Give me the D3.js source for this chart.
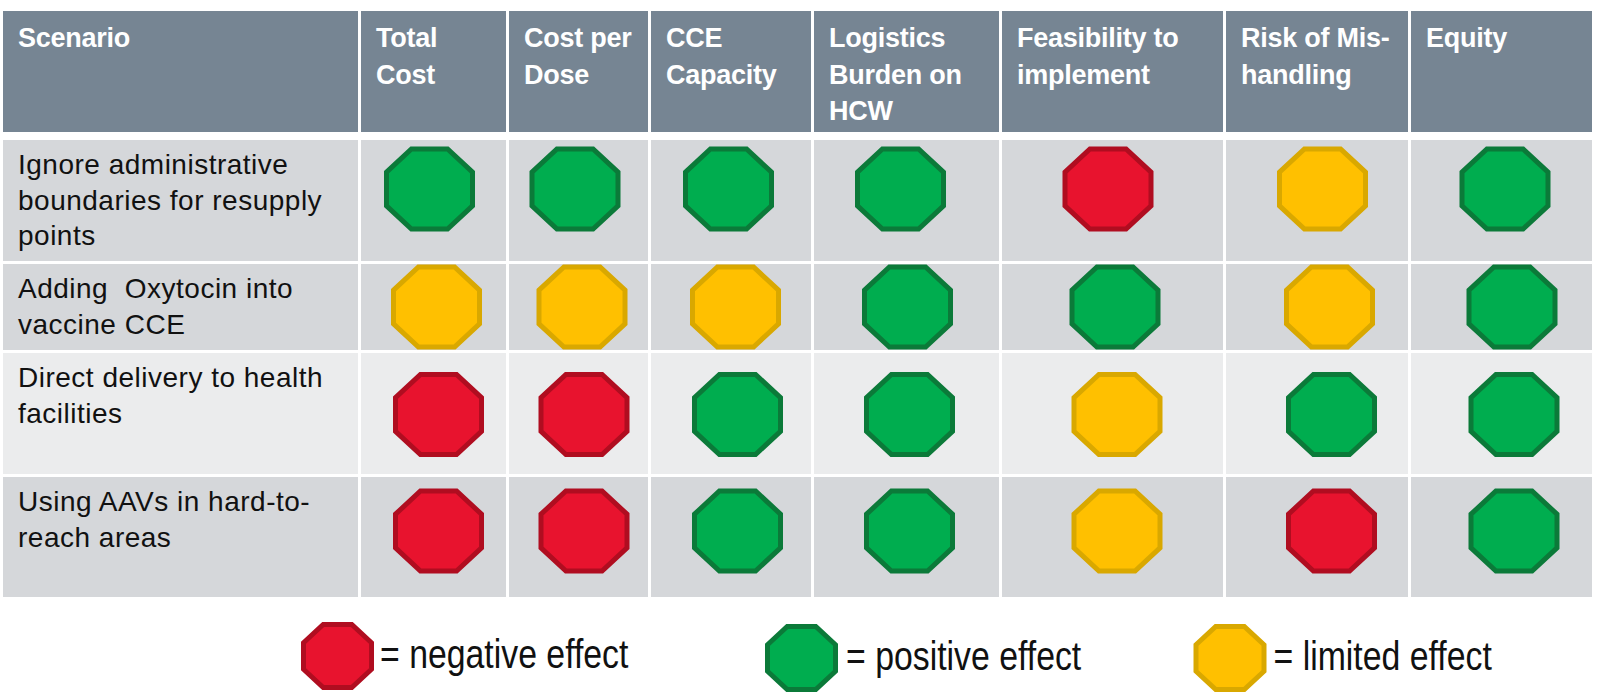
<!DOCTYPE html>
<html>
<head>
<meta charset="utf-8">
<script src="https://cdn.jsdelivr.net/npm/d3@7"></script>
<style>
  html, body { margin: 0; padding: 0; background: #ffffff; }
  svg { display: block; }
  text { white-space: pre; }
</style>
</head>
<body>
<div id="chart"></div>
<script>
// ---------------- DATA ----------------
const headerLabel = "Scenario";
const criteria = [
  "Total\nCost",
  "Cost per\nDose",
  "CCE\nCapacity",
  "Logistics\nBurden on\nHCW",
  "Feasibility to\nimplement",
  "Risk of Mis-\nhandling",
  "Equity"
];
const scenarios = [
  "Ignore administrative\nboundaries for resupply\npoints",
  "Adding  Oxytocin into\nvaccine CCE",
  "Direct delivery to health\nfacilities",
  "Using AAVs in hard-to-\nreach areas"
];
const ignoreBoundaries = ["positive", "positive", "positive", "positive", "negative", "limited", "positive"];
const addingOxytocin   = ["limited", "limited", "limited", "positive", "positive", "limited", "positive"];
const directDelivery   = ["negative", "negative", "positive", "positive", "limited", "positive", "positive"];
const usingAAVs        = ["negative", "negative", "positive", "positive", "limited", "negative", "positive"];
const ratings = [ignoreBoundaries, addingOxytocin, directDelivery, usingAAVs];
const legendKeys = ["negative", "positive", "limited"];
const legendLabels = ["= negative effect", "= positive effect", "= limited effect"];

// ---------------- LAYOUT ----------------
const W = 1601, H = 693;
const tableLeft = 3, gap = 3;
const colWidths = [355, 145, 139, 160, 185, 221, 182, 181];
const headerTop = 11, headerH = 121, headerGap = 8;
const rowHeights = [121, 86, 121, 120];

const colKeys = d3.range(colWidths.length);
const colStarts = colWidths.map((w, i) => tableLeft + d3.sum(colWidths.slice(0, i)) + gap * i);
const x = d3.scaleOrdinal().domain(colKeys).range(colStarts);
const xw = d3.scaleOrdinal().domain(colKeys).range(colWidths);

const rowKeys = d3.range(scenarios.length);
const bodyTop = headerTop + headerH + headerGap;
const rowStarts = rowHeights.map((h, i) => bodyTop + d3.sum(rowHeights.slice(0, i)) + gap * i);
const y = d3.scaleOrdinal().domain(rowKeys).range(rowStarts);
const yh = d3.scaleOrdinal().domain(rowKeys).range(rowHeights);

// small placement offsets of the icons inside their cells (as in the original slide)
const iconColShift = [0, 0.5, 1.5, -2, -0.5, 9.5, 7.5];
const iconRowShiftX = [-4, 3, 5, 5];
const iconRowShiftY = [-11.5, 0, 1, -6];

const fill = d3.scaleOrdinal().domain(["negative", "positive", "limited"])
  .range(["#e8132e", "#00ad4f", "#ffc000"]);
const edge = d3.scaleOrdinal().domain(["negative", "positive", "limited"])
  .range(["#b00d20", "#0b7a39", "#d9a800"]);

const headerBg = "#768593";
const rowBg = ["#d5d7da", "#d5d7da", "#ebeced", "#d5d7da"];

// ---------------- DRAW ----------------
const svg = d3.select("#chart").append("svg")
  .attr("width", W).attr("height", H)
  .attr("viewBox", `0 0 ${W} ${H}`);

svg.append("rect").attr("width", W).attr("height", H).attr("fill", "#ffffff");

function octagonPath(cx, cy, w, h, sw) {
  const iw = w - sw, ih = h - sw;
  const cxF = 0.29 * iw, cyF = 0.29 * ih;
  const l = cx - iw / 2, r = cx + iw / 2, t = cy - ih / 2, b = cy + ih / 2;
  const pts = [
    [l + cxF, t], [r - cxF, t], [r, t + cyF], [r, b - cyF],
    [r - cxF, b], [l + cxF, b], [l, b - cyF], [l, t + cyF]
  ];
  return d3.line().curve(d3.curveLinearClosed)(pts);
}

// Header cells
const headerTexts = [headerLabel].concat(criteria);
const hdr = svg.append("g").attr("class", "header");
hdr.selectAll("rect").data(colKeys).join("rect")
  .attr("x", d => x(d)).attr("y", headerTop)
  .attr("width", d => xw(d)).attr("height", headerH)
  .attr("fill", headerBg);

hdr.selectAll("text").data(colKeys).join("text")
  .attr("x", d => x(d) + 15)
  .attr("y", headerTop + 36)
  .attr("fill", "#ffffff")
  .attr("font-family", "'Liberation Sans', Arial, sans-serif")
  .attr("font-weight", "bold")
  .attr("font-size", 27)
  .attr("letter-spacing", -0.25)
  .each(function(d) {
    const lines = headerTexts[d].split("\n");
    d3.select(this).selectAll("tspan").data(lines).join("tspan")
      .attr("x", x(d) + 15)
      .attr("dy", (l, i) => i === 0 ? 0 : 36.5)
      .text(l => l);
  });

// Body rows
const body = svg.append("g").attr("class", "body");
rowKeys.forEach(r => {
  const g = body.append("g");
  g.selectAll("rect").data(colKeys).join("rect")
    .attr("x", c => x(c)).attr("y", y(r))
    .attr("width", c => xw(c)).attr("height", yh(r))
    .attr("fill", rowBg[r]);

  const t = g.append("text")
    .attr("x", x(0) + 15)
    .attr("y", y(r) + 34)
    .attr("fill", "#111111")
    .attr("font-family", "'Liberation Sans', Arial, sans-serif")
    .attr("font-size", 28)
    .attr("letter-spacing", 0.5);
  t.selectAll("tspan").data(scenarios[r].split("\n")).join("tspan")
    .attr("x", x(0) + 15)
    .attr("dy", (l, i) => i === 0 ? 0 : 35.5)
    .text(l => l);

  g.selectAll("path").data(ratings[r]).join("path")
    .attr("d", (v, i) => {
      const c = i + 1;
      const cx = x(c) + xw(c) / 2 + iconColShift[i] + iconRowShiftX[r];
      const cy = y(r) + yh(r) / 2 + iconRowShiftY[r];
      return octagonPath(cx, cy, 91, 85, 5);
    })
    .attr("fill", v => fill(v))
    .attr("stroke", v => edge(v))
    .attr("stroke-width", 5)
    .attr("stroke-linejoin", "miter");
});

// Legend
const legendIconX = d3.scaleOrdinal().domain(legendKeys).range([337.5, 801.5, 1230]);
const legendIconY = d3.scaleOrdinal().domain(legendKeys).range([656, 658, 658]);
const legendTextGap = [6, 8, 7];
const narrow = 0.835; // Arial-Narrow-like horizontal compression
const lg = svg.append("g").attr("class", "legend");
legendKeys.forEach((k, i) => {
  lg.append("path")
    .attr("d", octagonPath(legendIconX(k), legendIconY(k), 73, 68, 5))
    .attr("fill", fill(k))
    .attr("stroke", edge(k))
    .attr("stroke-width", 5);
  const tx = legendIconX(k) + 36.5 + legendTextGap[i];
  const ty = legendIconY(k) + 12;
  lg.append("text")
    .attr("transform", `translate(${tx},${ty}) scale(${narrow},1)`)
    .attr("x", 0)
    .attr("y", 0)
    .attr("fill", "#111111")
    .attr("font-family", "'Liberation Sans', Arial, sans-serif")
    .attr("font-size", 40.5)
    .text(legendLabels[i]);
});
</script>
</body>
</html>
